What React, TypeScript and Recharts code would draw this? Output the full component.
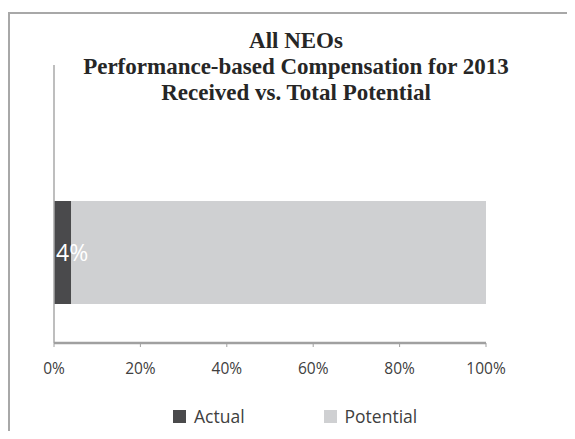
import { BarChart, Bar, XAxis, YAxis, LabelList, ReferenceLine } from "recharts";

const categories = ["All NEOs"];
const actual = [0.04];
const potential = [0.96];
const xTicks = [0, 0.2, 0.4, 0.6, 0.8, 1];
const titleLines = [
  "All NEOs",
  "Performance-based Compensation for 2013",
  "Received vs. Total Potential",
];
const seriesNames = ["Actual", "Potential"];

const DARK = "#4a4a4c";
const LIGHT = "#cfd0d2";

const data = categories.map((c, i) => ({ name: c, actual: actual[i], potential: potential[i] }));
const pct = (v: number) => `${Math.round(v * 100)}%`;

if (typeof document !== "undefined") {
  document.documentElement.style.overflow = "hidden";
  document.body.style.overflow = "hidden";
}

// label for the Actual share, drawn after the Potential bar so it stays on top
const ActualLabel = (props: any) => {
  const { x, y, width, height, index } = props;
  const start = x - (actual[index] * width) / potential[index];
  return (
    <text x={start + 2} y={y + height / 2} dy="0.35em" fill="#ffffff" fontSize={23} fontFamily="'Open Sans', sans-serif">
      {pct(actual[index])}
    </text>
  );
};

export default function App() {
  return (
    <div style={{ position: "relative", width: 567, height: 423, overflow: "hidden", background: "#fff" }}>
      <div
        style={{
          position: "absolute", top: 4, left: 0, width: 600, height: 460,
          borderTop: "2px solid #a8a8a8", borderLeft: "2px solid #a8a8a8",
        }}
      />
      <div
        style={{
          position: "absolute", top: 20, left: 0, width: 576, textAlign: "center",
          fontFamily: "'Liberation Serif', 'Times New Roman', serif", fontWeight: "bold",
          fontSize: 23, lineHeight: "26px", color: "#262626",
        }}
      >
        {titleLines.map((t) => <div key={t}>{t}</div>)}
      </div>
      <BarChart
        layout="vertical"
        width={567}
        height={431}
        data={data}
        margin={{ top: 57, right: 89, bottom: 66, left: 46 }}
        style={{ position: "absolute", top: 0, left: 0 }}
      >
        <XAxis
          type="number"
          domain={[0, 1]}
          ticks={xTicks}
          tickFormatter={pct}
          height={30}
          axisLine={{ stroke: "#a0a0a0", strokeWidth: 2.5 }}
          tickLine={{ stroke: "#a0a0a0" }}
          tickSize={4}
          tickMargin={16}
          tick={{ fill: "#404040", fontSize: 15.5, fontFamily: "'Open Sans', sans-serif" }}
        />
        <YAxis type="category" dataKey="name" width={0} tick={false} tickLine={false} axisLine={false} padding={{ top: 97, bottom: 0 }} />
        <ReferenceLine x={0} stroke="#a8a8a8" strokeWidth={1.5} />
        <Bar dataKey="actual" name={seriesNames[0]} stackId="a" fill={DARK} barSize={103} isAnimationActive={false} />
        <Bar dataKey="potential" name={seriesNames[1]} stackId="a" fill={LIGHT} barSize={103} isAnimationActive={false}>
          <LabelList dataKey="potential" content={ActualLabel} />
        </Bar>
      </BarChart>
      <div
        style={{
          position: "absolute", top: 396, left: 165, display: "flex", alignItems: "center",
          fontFamily: "'Open Sans', sans-serif", fontSize: 17.5, color: "#404040",
        }}
      >
        {seriesNames.map((n, i) => (
          <div key={n} style={{ display: "flex", alignItems: "center", marginRight: i === 0 ? 79 : 0 }}>
            <span style={{ display: "inline-block", width: 13, height: 13, background: i === 0 ? DARK : LIGHT, marginRight: 8 }} />
            <span>{n}</span>
          </div>
        ))}
      </div>
    </div>
  );
}
